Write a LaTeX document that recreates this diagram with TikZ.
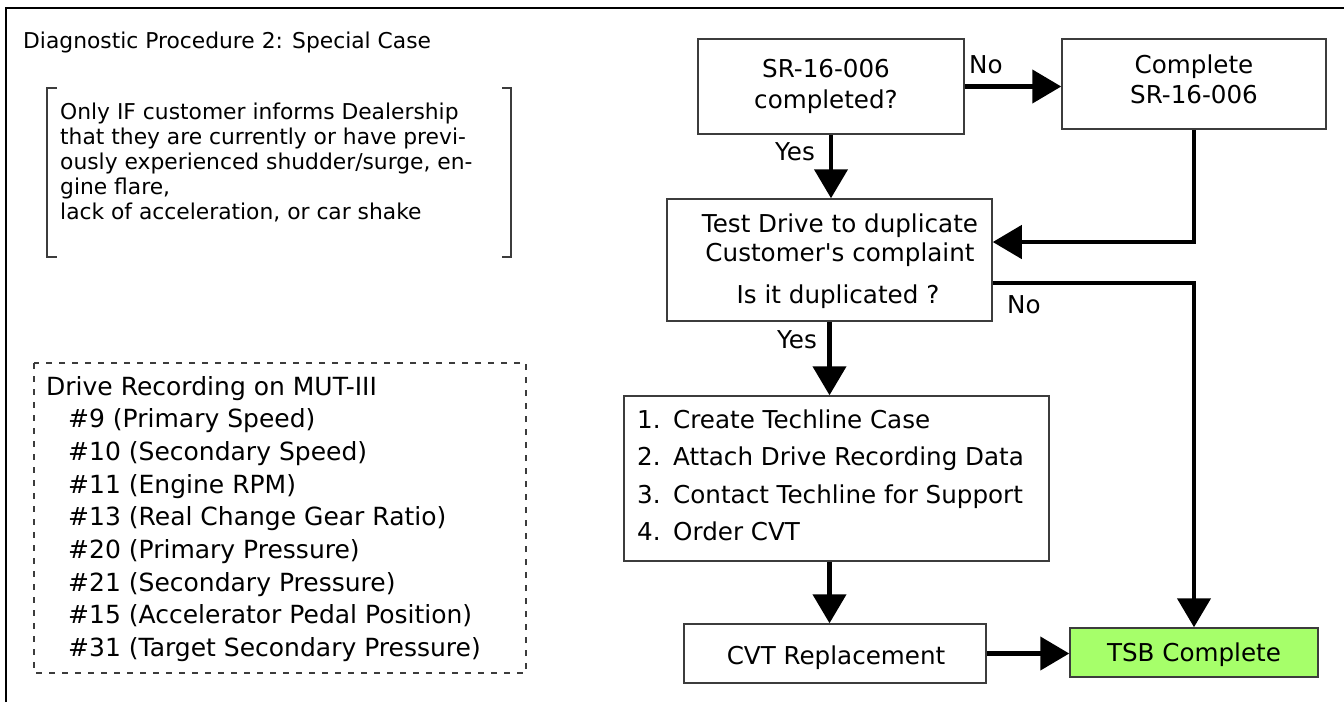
\documentclass[tikz,border=0pt]{standalone}
\usepackage{fontspec}
\setmainfont{DejaVu Sans}
\usetikzlibrary{arrows.meta}
\definecolor{tsbgreen}{RGB}{166,255,106}
\definecolor{edgegray}{RGB}{60,60,60}
\newcommand\myboxfont{\fontsize{24.6pt}{30pt}\selectfont}
\newcommand\mynotefont{\fontsize{21.8pt}{25pt}\selectfont}
\newcommand\mylistfont{\fontsize{25pt}{32pt}\selectfont}
\begin{document}
\begin{tikzpicture}[x=1pt,y=-1pt,
  box/.style={draw=edgegray, line width=1.5pt, fill=white, inner sep=0pt},
  flow/.style={line width=4.5pt, -{Triangle[length=29pt,width=33pt]}},
  btxt/.style={font=\myboxfont, inner sep=0pt, anchor=base},
  ltxt/.style={font=\myboxfont, inner sep=0pt, anchor=base west},
  ntxt/.style={font=\mynotefont, inner sep=0pt, anchor=base west},
  dtxt/.style={font=\mylistfont, inner sep=0pt, anchor=base west},
  bracketline/.style={draw=edgegray, line width=1.3pt},
  dashbox/.style={draw=edgegray, line width=1.2pt, dash pattern=on 6pt off 7pt}
]
\useasboundingbox (0,0) rectangle (1344,702);
% outer frame (top and left only)
\draw[line width=2.5pt] (6,702) -- (6,8) -- (1344,8);

% title
\node[ntxt] (title) at (23,48) {Diagnostic Procedure 2: Special Case};

% bracketed note
\draw[bracketline] (57,88) -- (47,88) -- (47,257) -- (57,257);
\draw[bracketline] (502,88) -- (511,88) -- (511,257) -- (502,257);
\node[ntxt] (n1) at (60,119) {Only IF customer informs Dealership};
\node[ntxt] (n2) at (60,144) {that they are currently or have previ-};
\node[ntxt] (n3) at (60,169) {ously experienced shudder/surge, en-};
\node[ntxt] (n4) at (60,194) {gine flare,};
\node[ntxt] (n5) at (60,219) {lack of acceleration, or car shake};

% drive recording box
\draw[dashbox] (34,363) rectangle (526,673);
\node[dtxt] (d0) at (46,395) {Drive Recording on MUT-III};
\node[dtxt] (d1) at (68,427) {\#9 (Primary Speed)};
\node[dtxt] (d2) at (68,460) {\#10 (Secondary Speed)};
\node[dtxt] (d3) at (68,493) {\#11 (Engine RPM)};
\node[dtxt] (d4) at (68,525) {\#13 (Real Change Gear Ratio)};
\node[dtxt] (d5) at (68,558) {\#20 (Primary Pressure)};
\node[dtxt] (d6) at (68,591) {\#21 (Secondary Pressure)};
\node[dtxt] (d7) at (68,623) {\#15 (Accelerator Pedal Position)};
\node[dtxt] (d8) at (68,656) {\#31 (Target Secondary Pressure)};

% flowchart boxes
\node[box, minimum width=266pt, minimum height=95pt] (A) at (831,86.5) {};
\node[box, minimum width=264pt, minimum height=90pt] (B) at (1194,84) {};
\node[box, minimum width=325pt, minimum height=122pt] (C) at (829.5,260) {};
\node[box, minimum width=425pt, minimum height=165pt] (D) at (836.5,478.5) {};
\node[box, minimum width=302pt, minimum height=59pt] (E) at (835,653.5) {};
\node[box, fill=tsbgreen, minimum width=248pt, minimum height=49pt] (F) at (1194,652.5) {};

% box texts
\node[btxt] (a1) at (826,77) {SR-16-006};
\node[btxt] (a2) at (826,108) {completed?};
\node[btxt] (b1) at (1194,73) {Complete};
\node[btxt] (b2) at (1194,103) {SR-16-006};
\node[btxt] (c1) at (840,232) {Test Drive to duplicate};
\node[btxt] (c2) at (840,261) {Customer\textquotesingle s complaint};
\node[btxt] (c3) at (838,303) {Is it duplicated ?};
\node[ltxt] (dn1) at (637,428) {1.};
\node[ltxt] (dt1) at (673,428) {Create Techline Case};
\node[ltxt] (dn2) at (637,465) {2.};
\node[ltxt] (dt2) at (673,465) {Attach Drive Recording Data};
\node[ltxt] (dn3) at (637,503) {3.};
\node[ltxt] (dt3) at (673,503) {Contact Techline for Support};
\node[ltxt] (dn4) at (637,540) {4.};
\node[ltxt] (dt4) at (673,540) {Order CVT};
\node[btxt] (e1) at (836,664) {CVT Replacement};
\node[btxt] (f1) at (1194,661) {TSB Complete};

% connectors
\draw[flow] (A.east) -- (A.east -| B.west);
\draw[flow] (A.south) -- (A.south |- C.north);
\draw[flow] (B.south) |- ([yshift=18pt]C.east);
\draw[flow] ([yshift=-23pt]C.east) -| (F.north);
\draw[flow] (C.south) -- (C.south |- D.north);
\draw[flow] (C.south |- D.south) -- (C.south |- E.north);
\draw[flow] (E.east) -- (E.east -| F.west);

% connector labels
\node[ltxt] (lno1) at (969,73) {No};
\node[ltxt] (lyes1) at (775,160) {Yes};
\node[ltxt] (lno2) at (1007,313) {No};
\node[ltxt] (lyes2) at (777,348) {Yes};
\end{tikzpicture}
\end{document}
